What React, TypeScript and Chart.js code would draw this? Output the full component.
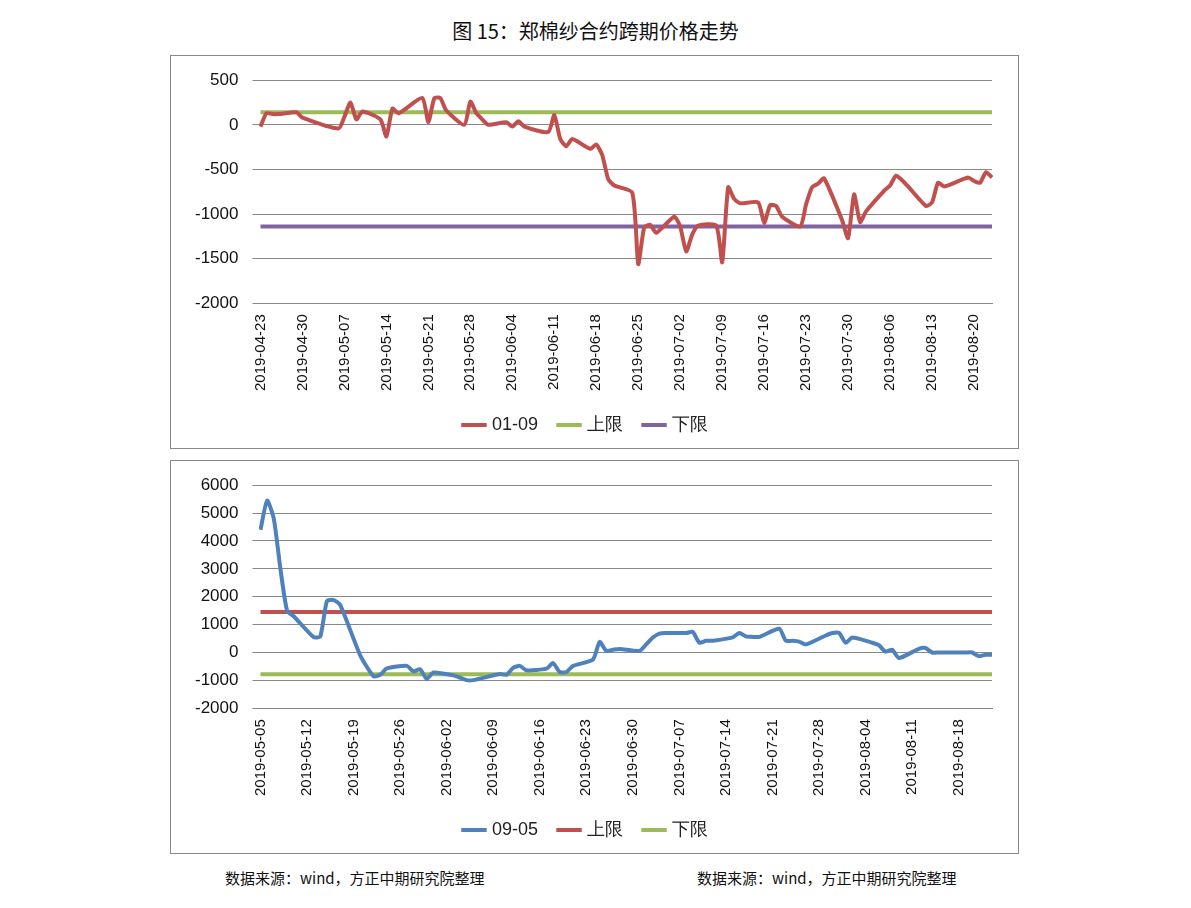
import React, { useEffect, useRef } from "react";
import { Chart, registerables } from "chart.js";
Chart.register(...registerables);

const dates1 = ["04-23","04-24","04-25","04-26","04-29","04-30","05-06","05-07","05-08","05-09","05-10","05-13","05-14","05-15","05-16","05-17","05-20","05-21","05-22","05-23","05-24","05-27","05-28","05-29","05-30","05-31","06-03","06-04","06-05","06-06","06-10","06-11","06-12","06-13","06-14","06-17","06-18","06-19","06-20","06-21","06-24","06-25","06-26","06-27","06-28","07-01","07-02","07-03","07-04","07-05","07-08","07-09","07-10","07-11","07-12","07-15","07-16","07-17","07-18","07-19","07-22","07-23","07-24","07-25","07-26","07-29","07-30","07-31","08-01","08-02","08-05","08-06","08-07","08-08","08-09","08-12","08-13","08-14","08-15","08-16","08-19","08-20","08-21","08-22","08-23"];
const spread0109 = [-20,130,120,120,140,80,-40,90,250,60,150,60,-130,180,130,170,300,30,300,300,160,0,260,130,60,0,30,-20,40,-20,-80,110,-160,-240,-160,-270,-220,-340,-610,-680,-760,-1560,-1150,-1120,-1210,-1030,-1140,-1420,-1230,-1130,-1130,-1540,-700,-830,-880,-870,-1100,-900,-910,-1030,-1140,-890,-700,-660,-600,-1070,-1270,-780,-1090,-970,-740,-680,-570,-620,-690,-910,-870,-650,-690,-670,-590,-630,-650,-530,-590];
const upper1 = 140;
const lower1 = -1140;

const dates2 = ["05-05","05-06","05-07","05-08","05-09","05-10","05-13","05-14","05-15","05-16","05-17","05-20","05-22","05-23","05-24","05-27","05-28","05-29","05-30","05-31","06-03","06-04","06-05","06-06","06-10","06-11","06-12","06-13","06-14","06-17","06-18","06-19","06-20","06-21","06-24","06-25","06-26","06-27","06-28","07-01","07-02","07-03","07-04","07-05","07-08","07-09","07-10","07-11","07-12","07-15","07-16","07-17","07-18","07-19","07-22","07-23","07-24","07-25","07-26","07-29","07-30","07-31","08-01","08-02","08-05","08-06","08-07","08-08","08-09","08-12","08-13","08-14","08-15","08-16","08-19","08-20","08-21","08-22","08-23"];
const spread0905 = [4400,5450,4800,3000,1500,1300,550,580,1850,1880,1700,-100,-850,-800,-570,-480,-680,-600,-950,-720,-820,-900,-990,-990,-770,-800,-550,-480,-640,-580,-380,-700,-700,-480,-250,380,60,100,130,60,290,540,680,700,700,740,350,420,420,540,700,580,560,560,850,420,420,390,290,610,700,700,350,540,350,260,30,100,-200,130,160,0,0,0,0,0,-130,-80,-80];
const upper2 = 1450;
const lower2 = -780;

function calendar(start: string, end: string): string[] {
  const out: string[] = [];
  const d = new Date("2019-" + start + "T00:00:00Z");
  const e = new Date("2019-" + end + "T00:00:00Z");
  while (d <= e) { out.push(d.toISOString().slice(0, 10)); d.setUTCDate(d.getUTCDate() + 1); }
  return out;
}

const FONT = "'Liberation Sans', 'DejaVu Sans', sans-serif";

function Panel(props: { dates: string[]; vals: number[]; up: number; low: number; name: string; colors: string[]; min: number; max: number; step: number; top: number; }) {
  const ref = useRef<HTMLCanvasElement>(null);
  useEffect(() => {
    const labels = calendar(props.dates[0], props.dates[props.dates.length - 1]);
    const map: Record<string, number> = {};
    props.dates.forEach((d, i) => (map["2019-" + d] = props.vals[i]));
    const series = labels.map((l) => (l in map ? map[l] : null));
    const chart = new Chart(ref.current!, {
      type: "line",
      data: {
        labels,
        datasets: [
          { label: props.name, data: series, borderColor: props.colors[0], borderWidth: 4, pointRadius: 0, spanGaps: true, tension: 0.2 },
          { label: "上限", data: labels.map(() => props.up), borderColor: props.colors[1], borderWidth: 4, pointRadius: 0 },
          { label: "下限", data: labels.map(() => props.low), borderColor: props.colors[2], borderWidth: 4, pointRadius: 0 },
        ],
      },
      options: {
        animation: false, responsive: false, maintainAspectRatio: false,
        layout: { padding: { left: 10, right: 26, top: 4, bottom: 4 } },
        plugins: {
          legend: { position: "bottom", labels: { usePointStyle: true, pointStyle: "line", boxWidth: 55, color: "#222", font: { family: FONT, size: 18 }, padding: 22 } },
          tooltip: { enabled: false },
        },
        scales: {
          x: {
            grid: { display: false }, border: { color: "#888" },
            ticks: { autoSkip: false, maxRotation: 90, minRotation: 90, color: "#111", font: { family: FONT, size: 15 },
              callback: (v: any, i: number) => (i % 7 === 0 ? labels[i] : null) },
          },
          y: {
            min: props.min, max: props.max,
            grid: { color: "#888" }, border: { display: false },
            ticks: { stepSize: props.step, color: "#111", font: { family: FONT, size: 17 }, padding: 14, callback: (v: any) => String(v) },
          },
        },
      },
    });
    return () => chart.destroy();
  }, []);
  return (
    <div style={{ position: "absolute", left: 170, top: props.top, width: 849, height: 394, border: "1px solid #888", boxSizing: "border-box" }}>
      <canvas ref={ref} width={847} height={392} />
    </div>
  );
}

export default function App() {
  return (
    <div style={{ position: "relative", margin: -8, width: 1191, height: 908, fontFamily: "'Noto Sans CJK SC', sans-serif" }}>
      <div style={{ position: "absolute", top: 16, left: 0, width: 1191, textAlign: "center", fontSize: 20, color: "#111" }}>图 15：郑棉纱合约跨期价格走势</div>
      <Panel dates={dates1} vals={spread0109} up={upper1} low={lower1} name="01-09" colors={["#C0504D", "#9BBB59", "#8064A2"]} min={-2000} max={500} step={500} top={55} />
      <Panel dates={dates2} vals={spread0905} up={upper2} low={lower2} name="09-05" colors={["#4F81BD", "#C0504D", "#9BBB59"]} min={-2000} max={6000} step={1000} top={460} />
      <div style={{ position: "absolute", top: 867, left: 225, fontSize: 15, color: "#111" }}>数据来源：wind，方正中期研究院整理</div>
      <div style={{ position: "absolute", top: 867, left: 697, fontSize: 15, color: "#111" }}>数据来源：wind，方正中期研究院整理</div>
    </div>
  );
}
